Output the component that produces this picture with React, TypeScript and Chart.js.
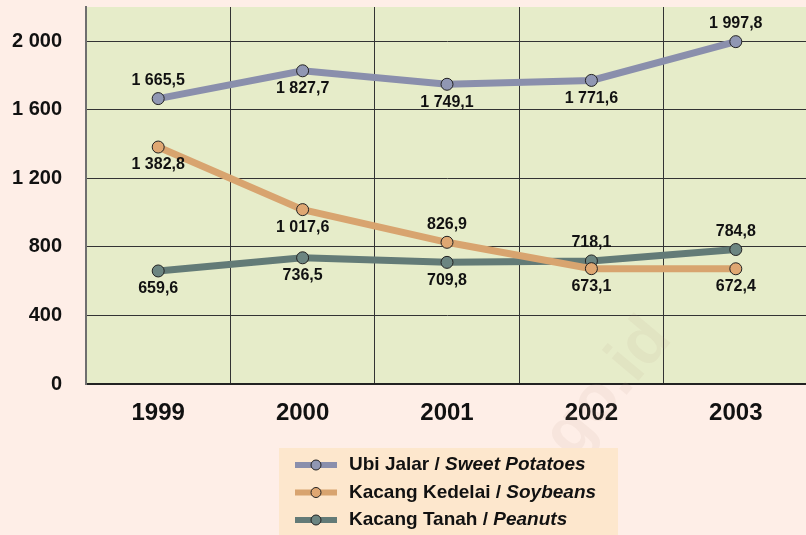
import React, { useEffect, useRef } from "react";
import { Chart, registerables } from "chart.js";

Chart.register(...registerables);

const years = ["1999", "2000", "2001", "2002", "2003"];
const sweetPotatoes = [1665.5, 1827.7, 1749.1, 1771.6, 1997.8];
const soybeans = [1382.8, 1017.6, 826.9, 673.1, 672.4];
const peanuts = [659.6, 736.5, 709.8, 718.1, 784.8];
const seriesNames = ["Ubi Jalar / ", "Kacang Kedelai / ", "Kacang Tanah / "];
const seriesNamesEn = ["Sweet Potatoes", "Soybeans", "Peanuts"];
const yTicks = [0, 400, 800, 1200, 1600, 2000];

const FONT = "Arial, 'Liberation Sans', sans-serif";

const fmt = (v: number, dec: number) => {
  const s = v.toFixed(dec);
  const [i, d] = s.split(".");
  const ii = i.replace(/\B(?=(\d{3})+(?!\d))/g, " ");
  return d ? ii + "," + d : ii;
};

// label placement per dataset: -1 above, 1 below
const labelSide = [
  [-1, 1, 1, 1, -1],
  [1, 1, -1, 1, 1],
  [1, 1, 1, -1, -1],
];

const bgPlugin = {
  id: "bg",
  beforeDraw(chart: any) {
    const { ctx, chartArea: a, width, height } = chart;
    ctx.save();
    ctx.fillStyle = "#feeee7";
    ctx.fillRect(0, 0, width, height);
    ctx.fillStyle = "#e6ecc9";
    ctx.fillRect(a.left, a.top, a.right - a.left, a.bottom - a.top);
    ctx.restore();
  },
};

const labelsPlugin = {
  id: "vlabels",
  afterDatasetsDraw(chart: any) {
    const { ctx } = chart;
    ctx.save();
    ctx.font = `bold 16px ${FONT}`;
    ctx.fillStyle = "#111";
    ctx.textAlign = "center";
    ctx.textBaseline = "middle";
    chart.data.datasets.forEach((ds: any, di: number) => {
      const meta = chart.getDatasetMeta(di);
      meta.data.forEach((pt: any, i: number) => {
        const side = labelSide[di][i];
        ctx.fillText(fmt(ds.data[i], 1), pt.x, pt.y + side * 18);
      });
    });
    ctx.restore();
  },
};

const legendPlugin = {
  id: "customLegend",
  afterDraw(chart: any) {
    const { ctx } = chart;
    ctx.save();
    // watermark
    ctx.save();
    ctx.translate(565, 440);
    ctx.rotate(-Math.PI / 3.6);
    ctx.font = `bold 66px ${FONT}`;
    ctx.fillStyle = "rgba(190,160,140,0.10)";
    ctx.textAlign = "center";
    ctx.textBaseline = "middle";
    ctx.fillText("bps.go.id", 0, 0);
    ctx.restore();

    ctx.fillStyle = "#fde7cd";
    ctx.fillRect(279, 448, 339, 90);
    chart.data.datasets.forEach((ds: any, i: number) => {
      const y = 465 + i * 27.5;
      ctx.strokeStyle = ds.borderColor;
      ctx.lineWidth = 6;
      ctx.beginPath();
      ctx.moveTo(295, y);
      ctx.lineTo(337, y);
      ctx.stroke();
      ctx.beginPath();
      ctx.arc(316, y, 5, 0, Math.PI * 2);
      ctx.fillStyle = ds.pointBackgroundColor;
      ctx.fill();
      ctx.lineWidth = 1;
      ctx.strokeStyle = "#222";
      ctx.stroke();
      ctx.fillStyle = "#111";
      ctx.textBaseline = "middle";
      ctx.textAlign = "left";
      ctx.font = `bold 19px ${FONT}`;
      ctx.fillText(seriesNames[i], 349, y);
      const w = ctx.measureText(seriesNames[i]).width;
      ctx.font = `italic bold 19px ${FONT}`;
      ctx.fillText(seriesNamesEn[i], 349 + w, y);
    });
    ctx.restore();
  },
};

export default function App() {
  const ref = useRef<HTMLCanvasElement>(null);
  useEffect(() => {
    document.body.style.margin = "0";
    document.body.style.overflow = "hidden";
    const mk = (label: string, data: number[], line: string, fill: string) => ({
      label,
      data,
      borderColor: line,
      backgroundColor: line,
      pointBackgroundColor: fill,
      pointBorderColor: "#222",
      pointBorderWidth: 1,
      pointRadius: 6,
      borderWidth: 7,
      tension: 0,
    });
    const chart = new Chart(ref.current!, {
      type: "line",
      data: {
        labels: years,
        datasets: [
          mk(seriesNames[0] + seriesNamesEn[0], sweetPotatoes, "#8a8fac", "#9097b3"),
          mk(seriesNames[1] + seriesNamesEn[1], soybeans, "#d8a46f", "#dfa772"),
          mk(seriesNames[2] + seriesNamesEn[2], peanuts, "#637b77", "#6c8581"),
        ],
      },
      options: {
        animation: false,
        responsive: false,
        layout: { padding: { top: 6, right: 0, left: 0, bottom: 0 } },
        plugins: { legend: { display: false }, tooltip: { enabled: false } },
        scales: {
          x: {
            offset: true,
            grid: { offset: true, color: "#333", lineWidth: 1, drawTicks: false },
            border: { color: "#222", width: 2 },
            ticks: { color: "#111", font: { family: FONT, size: 24, weight: "bold" }, padding: 15 },
            afterFit: (s: any) => { s.height = 151; s.paddingLeft = 0; s.paddingRight = 0; },
          },
          y: {
            min: 0,
            max: 2200,
            afterBuildTicks: (s: any) => { s.ticks = yTicks.map((v) => ({ value: v })); },
            grid: { color: "#333", lineWidth: 1, drawTicks: false },
            border: { color: "#6f6f6f", width: 2 },
            ticks: {
              color: "#111",
              font: { family: FONT, size: 20, weight: "bold" },
              padding: 24,
              callback: (v: any) => fmt(Number(v), 0),
            },
            afterFit: (s: any) => { s.width = 86; s.paddingTop = 0; s.paddingBottom = 0; },
          },
        },
      },
      plugins: [bgPlugin, labelsPlugin, legendPlugin],
    });
    return () => chart.destroy();
  }, []);
  return (
    <canvas
      ref={ref}
      width={815}
      height={535}
      style={{ position: "fixed", left: 0, top: 0, width: 815, height: 535 }}
    />
  );
}
